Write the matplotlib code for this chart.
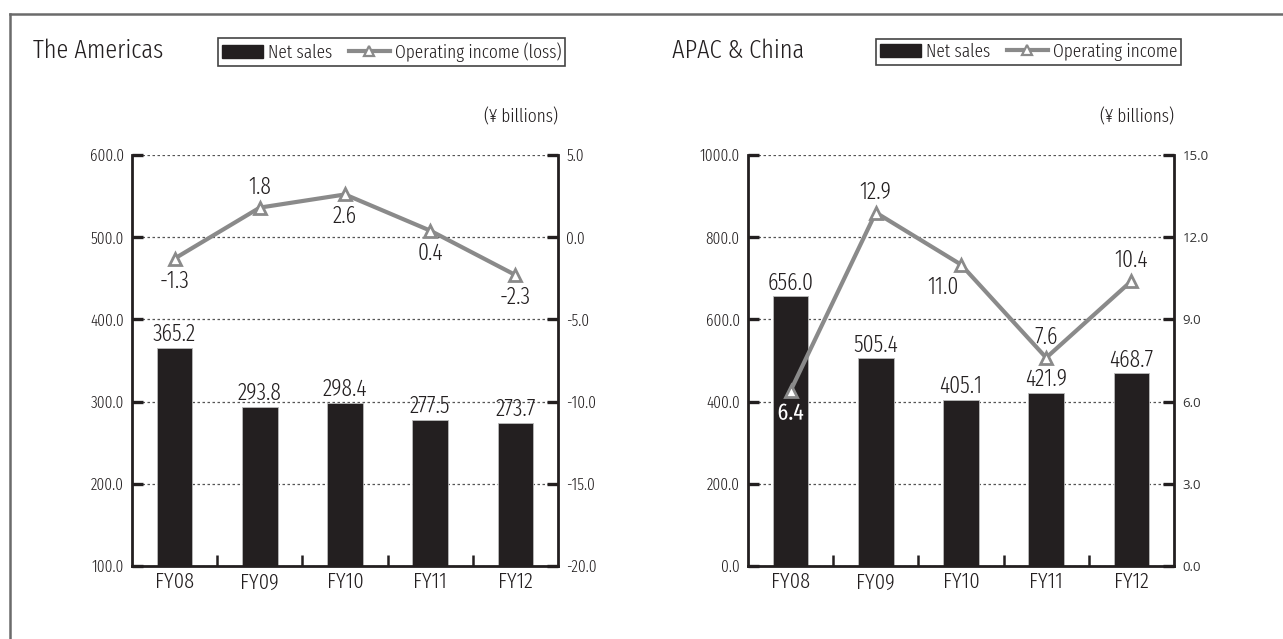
import numpy as np
import matplotlib
matplotlib.use("Agg")
import matplotlib.pyplot as plt
import matplotlib.patheffects as pe
from matplotlib.lines import Line2D
from matplotlib.patches import Patch

plt.rcParams['font.family'] = ['Fira Sans Extra Condensed', 'Roboto Condensed', 'DejaVu Sans']
plt.rcParams['font.weight'] = 300

years = ["FY08", "FY09", "FY10", "FY11", "FY12"]

am_sales = [365.2, 293.8, 298.4, 277.5, 273.7]
am_income = [-1.3, 1.8, 2.6, 0.4, -2.3]
am_sales_ticks = [100, 200, 300, 400, 500, 600]
am_income_ticks = [-20, -15, -10, -5, 0, 5]
am_label_pos = ["below", "above", "below", "below", "below"]

ap_sales = [656.0, 505.4, 405.1, 421.9, 468.7]
ap_income = [6.4, 12.9, 11.0, 7.6, 10.4]
ap_sales_ticks = [0, 200, 400, 600, 800, 1000]
ap_income_ticks = [0, 3, 6, 9, 12, 15]
ap_label_pos = ["below", "above", "belowleft", "above", "above"]

bar_col = "#231f20"
line_col = "#8a8a8a"
txt_col = "#231f20"

fig = plt.figure(figsize=(12.83, 6.39), dpi=100)

# outer frame (top and left only)
fig.add_artist(Line2D([10/1283, 1], [1-14/639, 1-14/639], color="#6b6b6b", lw=1.8))
fig.add_artist(Line2D([10/1283, 10/1283], [0, 1-14/639], color="#6b6b6b", lw=1.8))


def panel(left, title, title_x, sales, income, sticks, iticks, label_pos,
          leg_label, leg_x, right_font):
    ax = fig.add_axes([left/1283, 1-566/639, 426/1283, 411/639])
    x = np.arange(len(years))
    ax.bar(x, sales, width=0.42, color=bar_col, edgecolor="#bbbbbb", lw=0.6, zorder=2)
    ax.set_xlim(-0.5, len(years)-0.5)
    ax.set_ylim(sticks[0], sticks[-1])
    ax.set_yticks(sticks)
    ax.set_yticklabels([f"{v:.1f}" for v in sticks])
    ax.set_xticks(x)
    ax.set_xticklabels(years, fontsize=16, color=txt_col)
    ax.set_xticks(x[:-1] + 0.5, minor=True)
    ax.tick_params(axis='x', which='major', length=0, pad=4)
    ax.tick_params(axis='x', which='minor', direction='in', length=8, width=1.8,
                   color=bar_col)
    ax.tick_params(axis='y', direction='in', length=8, width=2.4, labelsize=12,
                   pad=6, color=bar_col, labelcolor=txt_col)
    for s in ['left', 'right', 'bottom']:
        ax.spines[s].set_linewidth(2)
        ax.spines[s].set_color(bar_col)
    ax.spines['top'].set_visible(False)
    ax.yaxis.grid(True, linestyle=(0, (2, 2)), color="#555555", lw=0.9, zorder=0)
    for xi, v in zip(x, sales):
        ax.text(xi, v + (sticks[-1]-sticks[0])*0.005, f"{v:.1f}", ha='center',
                va='bottom', fontsize=17, color=txt_col, zorder=5)

    ax2 = ax.twinx()
    ax2.set_ylim(iticks[0], iticks[-1])
    ax2.set_yticks(iticks)
    ax2.set_yticklabels([f"{v:.1f}" for v in iticks])
    ax2.tick_params(axis='y', direction='in', length=8, width=2.4, labelsize=12,
                    pad=6, color=bar_col, labelcolor=txt_col)
    if right_font:
        for t in ax2.get_yticklabels():
            t.set_fontfamily(right_font)
            t.set_fontweight('normal')
            t.set_fontsize(9.5)
            t.set_color("#333333")
    for s in ax2.spines.values():
        s.set_visible(False)
    ax2.plot(x, income, color=line_col, lw=3, marker='^', markersize=9,
             markerfacecolor='white', markeredgecolor=line_col, markeredgewidth=2,
             zorder=4)
    for xi, v, pos in zip(x, income, label_pos):
        dx, dy = 0, 15
        if pos.startswith("below"):
            dy = -16
        if pos == "belowleft":
            dx = -13
        t = ax2.annotate(f"{v:.1f}", (xi, v), xytext=(dx, dy), textcoords='offset points',
                         ha='center', va='center', fontsize=17, color=txt_col)
        if xi == 0 and sales[0] > 600:
            t.set_color("white")
            t.set_fontweight('normal')
            t.set_path_effects([pe.withStroke(linewidth=2.5, foreground=txt_col)])

    fig.text(title_x/1283, 1-51/639, title, fontsize=19, va='center', ha='left',
             color=txt_col)
    fig.text((left+426)/1283, 1-117/639, "(\u00a5 billions)", fontsize=13.5,
             ha='right', va='center', color=txt_col)

    handles = [Patch(facecolor=bar_col, edgecolor=bar_col),
               Line2D([], [], color=line_col, lw=3, marker='^', markersize=7,
                      markerfacecolor='white', markeredgecolor=line_col,
                      markeredgewidth=1.6)]
    leg = fig.legend(handles, ["Net sales", leg_label], loc='center left',
                     bbox_to_anchor=(leg_x/1283, 1-52/639), ncol=2, frameon=True,
                     fancybox=False, edgecolor="#444444", fontsize=13.5,
                     handlelength=2.2, handleheight=0.7, borderpad=0.2,
                     columnspacing=0.9, handletextpad=0.25, borderaxespad=0)
    leg.get_frame().set_linewidth(1.2)
    leg.get_frame().set_alpha(1)
    for t in leg.get_texts():
        t.set_color(txt_col)
    return ax, ax2


panel(132, "The Americas", 33, am_sales, am_income, am_sales_ticks, am_income_ticks,
      am_label_pos, "Operating income (loss)", 218, None)
panel(748, "APAC & China", 672, ap_sales, ap_income, ap_sales_ticks, ap_income_ticks,
      ap_label_pos, "Operating income", 876, ['Open Sans', 'DejaVu Sans'])

fig.savefig("out.png", dpi=100)
